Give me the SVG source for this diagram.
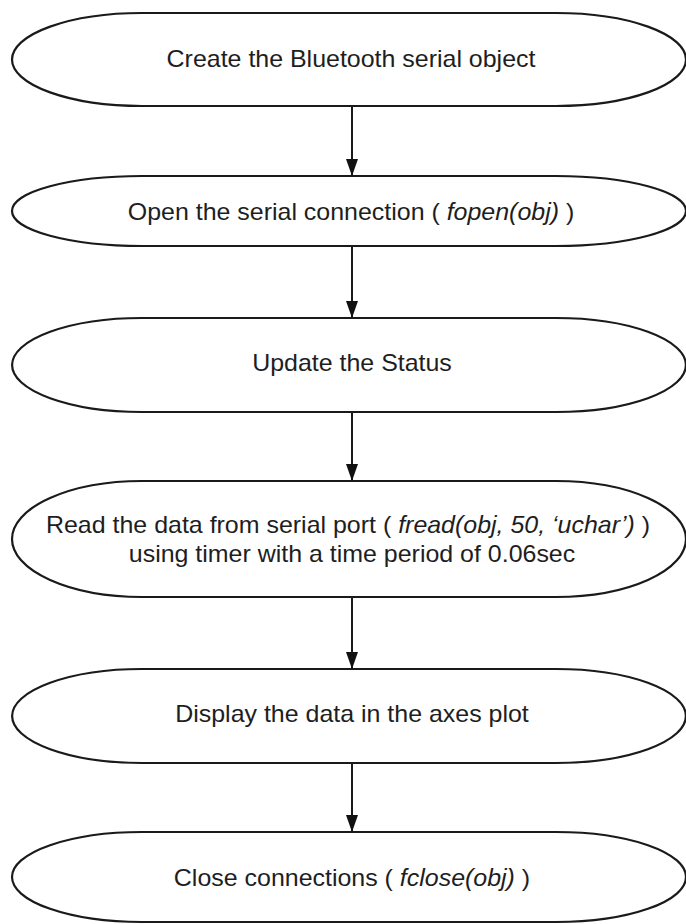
<svg xmlns="http://www.w3.org/2000/svg" width="686" height="924" viewBox="0 0 686 924">
<style>
.n{fill:#fff;stroke:#1a1a1a;stroke-width:2.2}
.t{font-family:"Liberation Sans",Arial,sans-serif;font-size:24px;fill:#1e1e1e;text-anchor:middle}
.c{stroke:#1a1a1a;stroke-width:2;fill:none}
</style>
<defs>
<marker id="ah" markerUnits="userSpaceOnUse" markerWidth="17" markerHeight="12" refX="17" refY="6" orient="auto">
<path d="M0,0 L17,6 L0,12 Z" fill="#111"/>
</marker>
</defs>
<rect width="686" height="924" fill="#fff"/>
<g id="node1">
<path class="n" d="M142,13 H556 A130,46.5 0 0 1 556,106 H142 A130,46.5 0 0 1 142,13 Z"/>
<text class="t" transform="translate(351,67) scale(1.04,1)">Create the Bluetooth serial object</text>
</g>
<g id="node2">
<path class="n" d="M142,176 H556 A130,35 0 0 1 556,246 H142 A130,35 0 0 1 142,176 Z"/>
<text class="t" transform="translate(351,220) scale(1.04,1)">Open the serial connection ( <tspan font-style="italic">fopen(obj)</tspan> )</text>
</g>
<g id="node3">
<path class="n" d="M142,318 H556 A130,47 0 0 1 556,412 H142 A130,47 0 0 1 142,318 Z"/>
<text class="t" transform="translate(352,371) scale(1.04,1)">Update the Status</text>
</g>
<g id="node4">
<path class="n" d="M142,481 H556 A130,58 0 0 1 556,597 H142 A130,58 0 0 1 142,481 Z"/>
<text class="t" transform="translate(348,533) scale(1.04,1)">Read the data from serial port ( <tspan font-style="italic">fread(obj, 50, ‘uchar’)</tspan> )</text>
<text class="t" transform="translate(352,562) scale(1.04,1)">using timer with a time period of 0.06sec</text>
</g>
<g id="node5">
<path class="n" d="M142,669 H556 A130,47 0 0 1 556,763 H142 A130,47 0 0 1 142,669 Z"/>
<text class="t" transform="translate(352,722) scale(1.04,1)">Display the data in the axes plot</text>
</g>
<g id="node6">
<path class="n" d="M142,832 H556 A130,45 0 0 1 556,922 H142 A130,45 0 0 1 142,832 Z"/>
<text class="t" transform="translate(352,886) scale(1.04,1)">Close connections ( <tspan font-style="italic">fclose(obj)</tspan> )</text>
</g>
<g id="connectors">
<line class="c" x1="352" y1="107" x2="352" y2="176" marker-end="url(#ah)"/>
<line class="c" x1="352" y1="247" x2="352" y2="318" marker-end="url(#ah)"/>
<line class="c" x1="352" y1="413" x2="352" y2="481" marker-end="url(#ah)"/>
<line class="c" x1="352" y1="598" x2="352" y2="669" marker-end="url(#ah)"/>
<line class="c" x1="352" y1="764" x2="352" y2="832" marker-end="url(#ah)"/>
</g>
</svg>
